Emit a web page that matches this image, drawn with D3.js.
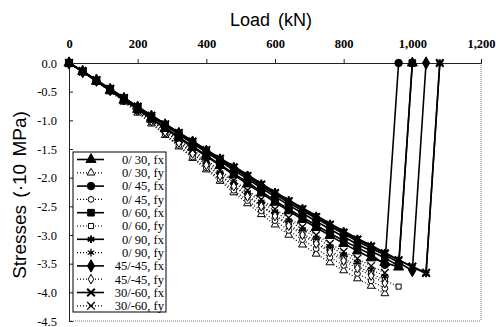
<!doctype html>
<html>
<head>
<meta charset="utf-8">
<title>Stresses vs load</title>
<script src="https://cdn.jsdelivr.net/npm/d3@7"></script>
<style>
  body { margin: 0; background: #fff; }
  svg { display: block; }
  .axis-title { font-family: "Liberation Sans", Arial, sans-serif; font-size: 18px; fill: #000; }
  .legend text { font-family: "Liberation Serif", serif; font-size: 12.5px; fill: #000; }
</style>
</head>
<body>
<svg id="chart" width="496" height="327"></svg>
<script>
// load steps (kN)
var loads = [0, 40, 80, 120, 160, 200, 240, 280, 320, 360, 400, 440, 480, 520,
             560, 600, 640, 680, 720, 760, 800, 840, 880, 920, 960, 1000, 1040, 1080];
var xTicks = [0, 200, 400, 600, 800, 1000, 1200];
var yTicks = [0, -0.5, -1, -1.5, -2, -2.5, -3, -3.5, -4, -4.5];

// stresses (x10 MPa), one array per series
var s030fx = [0, -0.15, -0.32, -0.48, -0.65, -0.81, -0.98, -1.14, -1.31, -1.47, -1.63, -1.79, -1.95, -2.11,
              -2.27, -2.43, -2.58, -2.73, -2.87, -3.01, -3.15, -3.28, -3.40, -3.48, -3.56, 0];
var s030fy = [0, -0.15, -0.32, -0.50, -0.68, -0.87, -1.06, -1.26, -1.46, -1.66, -1.86, -2.06, -2.26, -2.45,
              -2.64, -2.82, -3.00, -3.17, -3.33, -3.48, -3.62, -3.76, -3.89, -4.02];
var s045fx = [0, -0.15, -0.32, -0.48, -0.64, -0.81, -0.97, -1.13, -1.29, -1.45, -1.61, -1.77, -1.93, -2.08,
              -2.24, -2.40, -2.55, -2.69, -2.83, -2.97, -3.10, -3.22, -3.34, -3.52, 0];
var s045fy = [0, -0.15, -0.31, -0.49, -0.66, -0.85, -1.04, -1.24, -1.44, -1.64, -1.83, -2.03, -2.22, -2.40,
              -2.58, -2.75, -2.92, -3.08, -3.24, -3.39, -3.53, -3.67, -3.80, -3.93];
var s060fx = [0, -0.15, -0.31, -0.46, -0.62, -0.78, -0.94, -1.09, -1.25, -1.40, -1.56, -1.71, -1.87, -2.02,
              -2.18, -2.33, -2.48, -2.62, -2.76, -2.90, -3.03, -3.16, -3.28, -3.40, -3.54, 0];
var s060fy = [0, -0.15, -0.31, -0.47, -0.64, -0.82, -1.00, -1.19, -1.38, -1.57, -1.76, -1.95, -2.13, -2.31,
              -2.48, -2.65, -2.81, -2.97, -3.12, -3.27, -3.41, -3.54, -3.67, -3.79, -3.90];
var s090fx = [0, -0.14, -0.30, -0.45, -0.60, -0.76, -0.91, -1.06, -1.21, -1.36, -1.51, -1.66, -1.80, -1.95,
              -2.10, -2.25, -2.39, -2.53, -2.66, -2.80, -2.93, -3.06, -3.18, -3.31, -3.43, -3.56, -3.67, 0];
var s090fy = [0, -0.15, -0.30, -0.46, -0.63, -0.80, -0.98, -1.17, -1.35, -1.54, -1.72, -1.91, -2.08, -2.26,
              -2.42, -2.59, -2.75, -2.90, -3.05, -3.20, -3.34, -3.47, -3.60, -3.72];
var s4545fx = [0, -0.15, -0.30, -0.46, -0.62, -0.77, -0.93, -1.08, -1.23, -1.38, -1.54, -1.69, -1.84, -1.99,
               -2.15, -2.29, -2.44, -2.58, -2.71, -2.85, -2.98, -3.11, -3.23, -3.35, -3.48, -3.62, 0];
var s4545fy = [0, -0.15, -0.31, -0.48, -0.65, -0.83, -1.01, -1.20, -1.39, -1.58, -1.78, -1.97, -2.15, -2.33,
               -2.50, -2.67, -2.84, -3.00, -3.15, -3.30, -3.45, -3.58, -3.71, -3.84];
var s3060fx = [0, -0.14, -0.30, -0.45, -0.61, -0.76, -0.92, -1.07, -1.22, -1.37, -1.52, -1.67, -1.82, -1.97,
               -2.12, -2.27, -2.41, -2.55, -2.69, -2.82, -2.96, -3.08, -3.20, -3.32, -3.44, -3.55, -3.66, 0];
var s3060fy = [0, -0.15, -0.30, -0.46, -0.62, -0.79, -0.96, -1.15, -1.33, -1.51, -1.69, -1.87, -2.05, -2.22,
               -2.38, -2.55, -2.70, -2.86, -3.00, -3.15, -3.29, -3.41, -3.54, -3.66];

var names = ["0/ 30, fx", "0/ 30, fy", "0/ 45, fx", "0/ 45, fy", "0/ 60, fx", "0/ 60, fy",
             "0/ 90, fx", "0/ 90, fy", "45/-45, fx", "45/-45, fy", "30/-60, fx", "30/-60, fy"];
var values = [s030fx, s030fy, s045fx, s045fy, s060fx, s060fy,
              s090fx, s090fy, s4545fx, s4545fy, s3060fx, s3060fy];
var symbols = [d3.symbolTriangle, d3.symbolTriangle, d3.symbolCircle, d3.symbolCircle,
               d3.symbolSquare, d3.symbolSquare, d3.symbolAsterisk, d3.symbolAsterisk,
               d3.symbolDiamond, d3.symbolDiamond, d3.symbolTimes, d3.symbolTimes];

var series = names.map(function(n, i) {
  return {
    name: n,
    fy: i % 2 === 1,
    symbol: symbols[i],
    points: values[i].map(function(v, j) { return { load: loads[j], stress: v }; })
  };
});

var svg = d3.select("#chart");
var margin = { top: 63, right: 15, bottom: 6, left: 69 };
var width = 496 - margin.left - margin.right;
var height = 327 - margin.top - margin.bottom;

var x = d3.scaleLinear().domain([0, 1200]).range([0, width]);
var y = d3.scaleLinear().domain([-4.5, 0]).range([height, 0]);

var g = svg.append("g").attr("transform", "translate(" + margin.left + "," + margin.top + ")");

// frame: dotted right & bottom
g.append("line").attr("x1", x(1200)).attr("x2", x(1200)).attr("y1", 0).attr("y2", y(-4.5))
  .attr("stroke", "#777").attr("stroke-dasharray", "1,1");
g.append("line").attr("x1", 0).attr("x2", x(1200)).attr("y1", y(-4.5)).attr("y2", y(-4.5))
  .attr("stroke", "#777").attr("stroke-dasharray", "1,1");

// axes
var xAxis = d3.axisTop(x).tickValues(xTicks).tickFormat(d3.format(",")).tickSizeInner(4).tickSizeOuter(4).tickPadding(11);
var gx = g.append("g").call(xAxis);
var yAxis = d3.axisLeft(y).tickValues(yTicks).tickFormat(function(d) { return d.toFixed(1); })
  .tickSizeInner(-4).tickSizeOuter(0).tickPadding(12);
var gy = g.append("g").call(yAxis);
[gx, gy].forEach(function(a) {
  a.attr("font-family", null).attr("font-size", null);
  a.select(".domain").attr("stroke", "#222");
  a.selectAll(".tick line").attr("stroke", "#222");
  a.selectAll(".tick text")
    .style("font-family", "'Liberation Serif', 'Times New Roman', serif")
    .style("font-size", "12.5px").style("fill", "#000");
});
gx.selectAll(".tick text").style("font-weight", "bold");

// titles
svg.append("text").attr("class", "axis-title").attr("x", margin.left + width / 2 - 4).attr("y", 26)
  .attr("text-anchor", "middle").style("word-spacing", "3px").text("Load (kN)");
svg.append("text").attr("class", "axis-title")
  .attr("transform", "translate(26,195) rotate(-90)")
  .attr("text-anchor", "middle").style("font-size", "19px").style("word-spacing", "2px")
  .text("Stresses (·10 MPa)");

// lines and markers
var line = d3.line().x(function(d) { return x(d.load); }).y(function(d) { return y(d.stress); });
var order = series.filter(function(s) { return s.fy; }).concat(series.filter(function(s) { return !s.fy; }));

order.forEach(function(s) {
  g.append("path").datum(s.points).attr("d", line).attr("fill", "none").attr("stroke", "#000")
    .attr("stroke-width", s.fy ? 1.2 : 1.6).attr("stroke-dasharray", s.fy ? "1,2" : null);
});
function drawMarker(sel, s) {
  var lineSym = s.symbol === d3.symbolAsterisk || s.symbol === d3.symbolTimes;
  var open = s.fy && !lineSym;
  sel.attr("d", d3.symbol().type(s.symbol).size(lineSym ? 40 : (open ? 26 : 44)))
    .attr("fill", lineSym ? "none" : (open ? "#fff" : "#000"))
    .attr("stroke", "#000").attr("stroke-width", lineSym ? (s.fy ? 1.3 : 2) : 1);
}
order.forEach(function(s) {
  g.selectAll(null).data(s.points).enter().append("path")
    .attr("transform", function(d) { return "translate(" + x(d.load) + "," + y(d.stress) + ")"; })
    .call(drawMarker, s);
});

// legend
var lg = svg.append("g").attr("class", "legend").attr("transform", "translate(73,152)");
lg.append("rect").attr("width", 93).attr("height", 160).attr("fill", "#fff").attr("stroke", "#000").attr("stroke-width", 1);
series.forEach(function(s, i) {
  var row = lg.append("g").attr("transform", "translate(0," + (7.5 + i * 13.3) + ")");
  row.append("line").attr("x1", 4).attr("x2", 31).attr("stroke", "#000")
    .attr("stroke-width", s.fy ? 1.2 : 1.6).attr("stroke-dasharray", s.fy ? "1,2" : null);
  row.append("path").attr("transform", "translate(18,0)").call(drawMarker, s);
  row.append("text").attr("x", 91).attr("dy", "0.35em").attr("text-anchor", "end").text(s.name);
});
</script>
</body>
</html>
